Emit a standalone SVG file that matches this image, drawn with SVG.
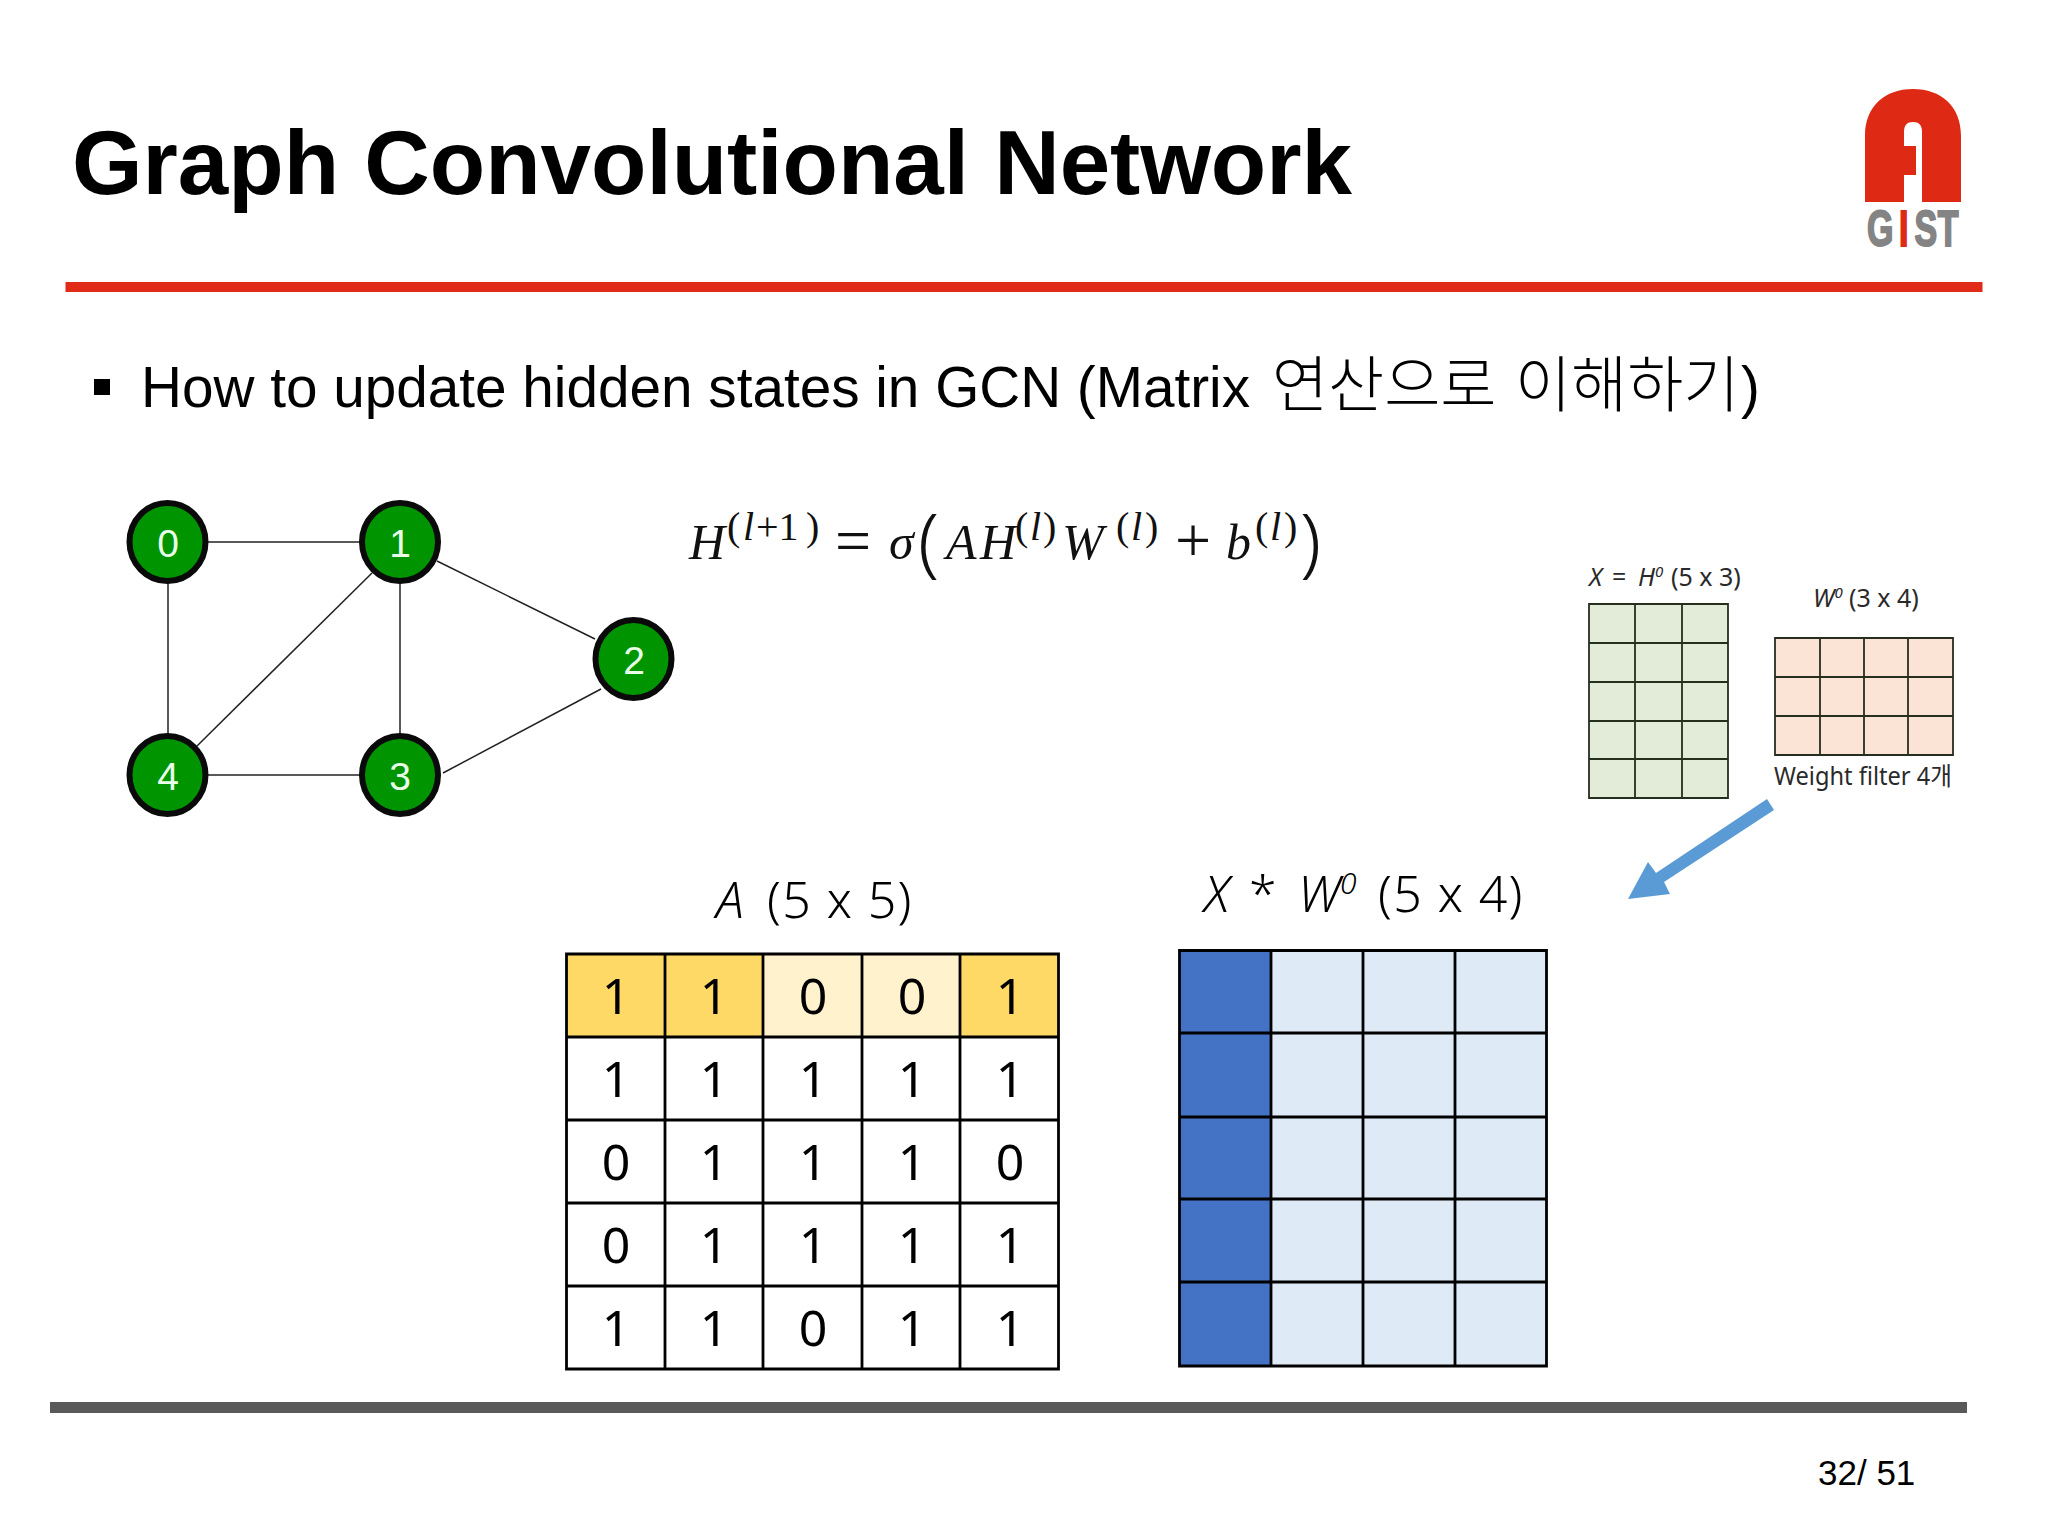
<svg xmlns="http://www.w3.org/2000/svg" width="2048" height="1536" viewBox="0 0 2048 1536">
<style>
text{font-family:"Liberation Sans","Noto Sans CJK KR",sans-serif;fill:#000}
.k{font-family:"Noto Sans","Noto Sans CJK KR",sans-serif;font-weight:300}
.kr{font-family:"Noto Sans CJK KR","Noto Sans",sans-serif;font-weight:300}
.i{font-style:italic}
.ls{letter-spacing:1.4px}
.m{font-family:"Liberation Serif","DejaVu Serif",serif;font-size:50px;fill:#111}
.mi{font-style:italic}
.s{font-size:40px}
.op{font-size:64px}
.big{font-family:"Noto Sans",sans-serif;font-size:76px;font-weight:300}
.n{font-size:39px;fill:#e8ffe8;text-anchor:middle}
.c{font-family:"Noto Sans",sans-serif;font-weight:400;font-size:50px;text-anchor:middle}
.edge{stroke:#222;stroke-width:1.5;fill:none}
.node{fill:#009400;stroke:#0a0a0a;stroke-width:6}
.gl{stroke:#262e1e;stroke-width:1.8;fill:none}
.tl{stroke:#000;stroke-width:2.8;fill:none}
.small{font-family:"Noto Sans","Noto Sans CJK KR",sans-serif;font-size:25px;fill:#2a2a2a}
</style>
<rect width="2048" height="1536" fill="#fff"/>
<g id="header">
<text x="72" y="194" font-size="91" font-weight="700" textLength="1280" lengthAdjust="spacingAndGlyphs">Graph Convolutional Network</text>
<rect x="65.5" y="282" width="1917" height="10" fill="#df2b18"/>
</g>
<g id="logo">
<path fill="#de2a14" fill-rule="evenodd" d="M1865 202V136C1865 106 1885 89 1913 89C1941 89 1961 106 1961 136V202ZM1904 202H1922V132C1922 125 1919 122 1913 122C1907 122 1904 125 1904 132V146H1916V175H1904Z"/>
<text transform="translate(1867 246) scale(.68 1)" font-size="50" font-weight="700" style="fill:#848484" stroke="#848484" stroke-width="2"><tspan x="0">G</tspan><tspan x="47" style="fill:#de2a14" stroke="#de2a14">I</tspan><tspan x="70">S</tspan><tspan x="104">T</tspan></text>
</g>
<g id="bullet">
<rect x="94" y="379" width="16" height="16" fill="#000"/>
<text x="141" y="407" font-size="56.7" fill="#111">How to update hidden states in GCN (Matrix <tspan class="kr" x="1272" font-size="61">연산으로</tspan><tspan class="kr" x="1515" font-size="61">이해하기</tspan><tspan x="1741">)</tspan></text>
</g>
<g id="formula">
<text class="m mi" x="689" y="559">H</text>
<text class="m s" x="727" y="540">(</text><text class="m s mi" x="743" y="540">l</text><text class="m s" x="756" y="540">+1</text><text class="m s" x="806" y="540">)</text>
<text class="m op" x="835" y="562">=</text>
<text class="m mi" x="889" y="559">σ</text>
<text class="m big" x="918" y="568">(</text>
<text class="m mi" x="946" y="559">A</text><text class="m mi" x="980" y="559">H</text>
<text class="m s" x="1015" y="540">(</text><text class="m s mi" x="1030" y="540">l</text><text class="m s" x="1043" y="540">)</text>
<text class="m mi" x="1062" y="559">W</text>
<text class="m s" x="1116" y="540">(</text><text class="m s mi" x="1131" y="540">l</text><text class="m s" x="1145" y="540">)</text>
<text class="m op" x="1175" y="562">+</text>
<text class="m mi" x="1226" y="559">b</text>
<text class="m s" x="1255" y="540">(</text><text class="m s mi" x="1270" y="540">l</text><text class="m s" x="1284" y="540">)</text>
<text class="m big" x="1300" y="568">)</text>
</g>
<g id="connectors">
<line class="edge" x1="168" y1="542" x2="400" y2="542"/>
<line class="edge" x1="168" y1="542" x2="168" y2="775"/>
<line class="edge" x1="372" y1="573" x2="197" y2="746"/>
<line class="edge" x1="400" y1="542" x2="400" y2="775"/>
<line class="edge" x1="437" y1="561" x2="595" y2="639"/>
<line class="edge" x1="443" y1="773" x2="601" y2="689"/>
<line class="edge" x1="168" y1="775" x2="400" y2="775"/>
</g>
<g id="node0"><ellipse class="node" cx="167.5" cy="542" rx="38" ry="39"/><text class="n" x="168" y="557">0</text></g>
<g id="node1"><ellipse class="node" cx="400" cy="542" rx="38" ry="39"/><text class="n" x="400" y="557">1</text></g>
<g id="node2"><ellipse class="node" cx="633.5" cy="659" rx="38" ry="39"/><text class="n" x="634" y="674">2</text></g>
<g id="node3"><ellipse class="node" cx="400" cy="775" rx="38" ry="39"/><text class="n" x="400" y="790">3</text></g>
<g id="node4"><ellipse class="node" cx="167.5" cy="775" rx="38" ry="39"/><text class="n" x="168" y="790">4</text></g>
<g id="matrix-x">
<text class="small" y="586"><tspan class="i" x="1589">X</tspan><tspan x="1612">=</tspan><tspan class="i" x="1638">H</tspan><tspan class="i" font-size="15" dy="-9">0</tspan><tspan x="1671" dy="9">(5 x 3)</tspan></text>
<rect x="1589" y="604" width="139" height="194" fill="#e3ecd9"/>
<path class="gl" d="M1589 604H1728V798H1589ZM1635 604V798M1682 604V798M1589 643H1728M1589 682H1728M1589 721H1728M1589 759H1728"/>
</g>
<g id="matrix-w">
<text class="small" y="607"><tspan class="i" x="1813">W</tspan><tspan class="i" font-size="15" dy="-9">0</tspan><tspan x="1849" dy="9">(3 x 4)</tspan></text>
<rect x="1775" y="638" width="178" height="117" fill="#fbe4d6"/>
<path class="gl" d="M1775 638H1953V755H1775ZM1820 638V755M1864 638V755M1908 638V755M1775 677H1953M1775 716H1953"/>
<text class="small" x="1774" y="785" textLength="178" lengthAdjust="spacingAndGlyphs">Weight filter 4개</text>
</g>
<g id="arrow"><polygon fill="#5b9bd5" points="1767,799 1774,810 1664,882 1670,894 1628,899 1648,862 1656,873"/></g>
<g id="matrix-a">
<text class="k" y="918" font-size="50"><tspan class="i" x="716">A</tspan><tspan class="ls" x="767">(5 x 5)</tspan></text>
<rect x="566" y="954" width="98" height="83" fill="#ffd966"/><rect x="664" y="954" width="99" height="83" fill="#ffd966"/><rect x="763" y="954" width="99" height="83" fill="#fff2cc"/><rect x="862" y="954" width="98" height="83" fill="#fff2cc"/><rect x="960" y="954" width="98" height="83" fill="#ffd966"/>
<path class="tl" d="M566.5 954H1058.5V1369H566.5ZM665 954V1369M763 954V1369M862 954V1369M960 954V1369M566 1037H1058M566 1120H1058M566 1203H1058M566 1286H1058"/>
<text class="c" x="616" y="1014">1</text><text class="c" x="714" y="1014">1</text><text class="c" x="813" y="1014">0</text><text class="c" x="912" y="1014">0</text><text class="c" x="1010" y="1014">1</text>
<text class="c" x="616" y="1097">1</text><text class="c" x="714" y="1097">1</text><text class="c" x="813" y="1097">1</text><text class="c" x="912" y="1097">1</text><text class="c" x="1010" y="1097">1</text>
<text class="c" x="616" y="1180">0</text><text class="c" x="714" y="1180">1</text><text class="c" x="813" y="1180">1</text><text class="c" x="912" y="1180">1</text><text class="c" x="1010" y="1180">0</text>
<text class="c" x="616" y="1263">0</text><text class="c" x="714" y="1263">1</text><text class="c" x="813" y="1263">1</text><text class="c" x="912" y="1263">1</text><text class="c" x="1010" y="1263">1</text>
<text class="c" x="616" y="1346">1</text><text class="c" x="714" y="1346">1</text><text class="c" x="813" y="1346">0</text><text class="c" x="912" y="1346">1</text><text class="c" x="1010" y="1346">1</text>
</g>
<g id="matrix-result">
<text class="k" y="912" font-size="50"><tspan class="i" x="1204">X</tspan><tspan x="1249">*</tspan><tspan class="i" x="1298">W</tspan><tspan class="i" font-size="30" dy="-18">0</tspan><tspan class="ls" x="1378" dy="18">(5 x 4)</tspan></text>
<rect x="1179" y="950" width="368" height="416" fill="#deeaf6"/>
<rect x="1179" y="950" width="92" height="416" fill="#4472c4"/>
<path class="tl" d="M1179.5 950.5H1546.5V1366H1179.5ZM1271 950V1366M1363 950V1366M1455 950V1366M1179 1033H1546M1179 1117H1546M1179 1199H1546M1179 1282H1546"/>
</g>
<g id="footer">
<rect x="50" y="1402" width="1917" height="11" fill="#595959"/>
<text x="1818" y="1485" font-size="35" fill="#222">32/ 51</text>
</g>
</svg>
